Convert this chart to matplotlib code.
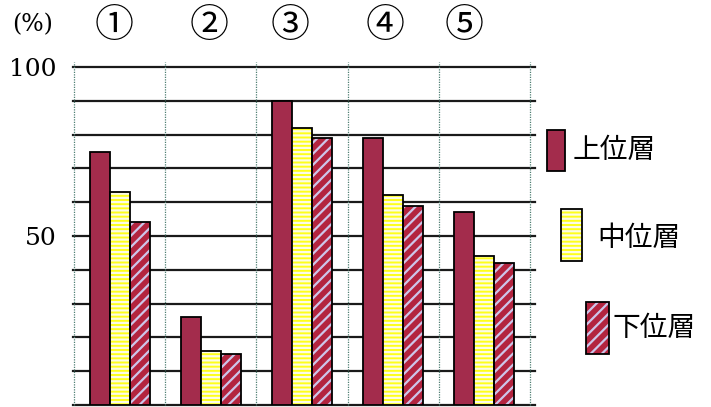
import matplotlib
matplotlib.use("Agg")
import matplotlib.pyplot as plt
from matplotlib.patches import Rectangle
import numpy as np

# 日本語フォント
plt.rcParams['font.family'] = ['Noto Sans CJK JP', 'DejaVu Sans']
plt.rcParams['hatch.linewidth'] = 1.6

# データ
groups = ['①', '②', '③', '④', '⑤']
series = ['上位層', '中位層', '下位層']
upper = [75, 26, 90, 79, 57]
middle = [63, 16, 82, 62, 44]
lower = [54, 15, 79, 59, 42]
shown_ticks = [50, 100]

# 色
c_upper = '#a32c4c'
c_mid_bg, c_mid_hatch = '#ffff1a', '#fbfbe8'
c_low_bg, c_low_hatch = '#b3243f', '#cdc6ea'
serif = ['DejaVu Serif', 'Liberation Serif', 'serif']

W, H = 711, 407
fig = plt.figure(figsize=(W / 100, H / 100), dpi=100)
ax = fig.add_axes([73 / W, 2 / H, 462 / W, 338 / H])

x = np.arange(len(groups))
w = 0.22

ax.bar(x - w, upper, w, color=c_upper, edgecolor='black', lw=1.3, zorder=3)
ax.bar(x, middle, w, color=c_mid_bg, edgecolor=c_mid_hatch, hatch='----', lw=0, zorder=3)
ax.bar(x, middle, w, fill=False, edgecolor='black', lw=1.3, zorder=4)
ax.bar(x + w, lower, w, color=c_low_bg, edgecolor=c_low_hatch, hatch='///', lw=0, zorder=3)
ax.bar(x + w, lower, w, fill=False, edgecolor='black', lw=1.3, zorder=4)

# 罫線
for yv in range(0, 101, 10):
    ax.axhline(yv, color='#1a1a1a', lw=1.6, zorder=1, clip_on=False)
for xv in np.arange(-0.5, len(groups), 1):
    ax.plot([xv, xv], [0, 101.5], color='#4f7f73', lw=0.9, ls=(0, (1, 1)),
            zorder=2, clip_on=False)

ax.set_xlim(-0.5 - 1 / 91.2, len(groups) - 0.5 + 5 / 91.2)
ax.set_ylim(0, 100)
ax.set_xticks([])
ax.set_yticks(shown_ticks)
ax.set_yticklabels([str(v) for v in shown_ticks])
ax.tick_params(axis='y', length=0, pad=12)
for t in ax.get_yticklabels():
    t.set_fontfamily(serif)
    t.set_fontsize(18)
for s in ax.spines.values():
    s.set_visible(False)

fig.text(12 / W, 1 - 25 / H, '(%)', family=serif, fontsize=17, va='center')
label_px = [114, 209, 290, 385, 464]
for lx, g in zip(label_px, groups):
    fig.text(lx / W, 1 - 26 / H, g, fontsize=28, ha='center', va='center')

# 凡例（階段状）
legend_boxes = [(547, 130, 18, 41), (561, 209, 21, 52), (586, 302, 23, 52)]
legend_text = [(573, 150), (597, 238), (612, 328)]
styles = [dict(facecolor=c_upper, edgecolor=c_upper),
          dict(facecolor=c_mid_bg, edgecolor=c_mid_hatch, hatch='----'),
          dict(facecolor=c_low_bg, edgecolor=c_low_hatch, hatch='///')]
for (bx, by, bw, bh), (tx, ty), st, name in zip(legend_boxes, legend_text, styles, series):
    r = Rectangle((bx / W, 1 - (by + bh) / H), bw / W, bh / H, lw=0,
                  transform=fig.transFigure, **st)
    fig.add_artist(r)
    fig.add_artist(Rectangle((bx / W, 1 - (by + bh) / H), bw / W, bh / H, fill=False,
                             edgecolor='black', lw=1.3, transform=fig.transFigure))
    fig.text(tx / W, 1 - ty / H, name, fontsize=20, va='center')

fig.savefig('out.png', dpi=100)
